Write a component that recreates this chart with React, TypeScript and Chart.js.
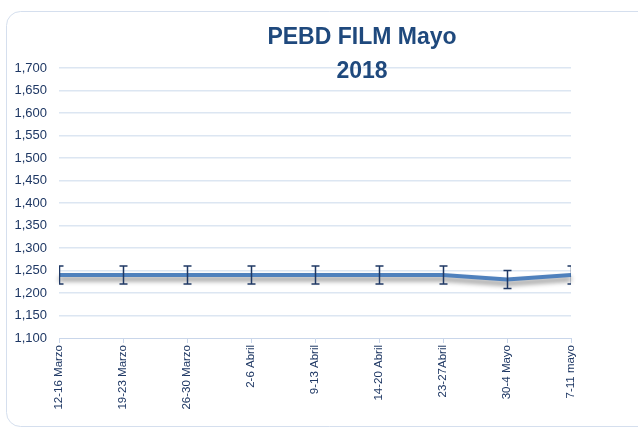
import React, { useEffect, useRef } from "react";
import { Chart, registerables } from "chart.js";

Chart.register(...registerables);

const categories = [
  "12-16 Marzo",
  "19-23 Marzo",
  "26-30 Marzo",
  "2-6 Abril",
  "9-13 Abril",
  "14-20 Abril",
  "23-27Abril",
  "30-4 Mayo",
  "7-11 mayo",
];
const prices = [1240, 1240, 1240, 1240, 1240, 1240, 1240, 1230, 1240];
const errorPlus = [20, 20, 20, 20, 20, 20, 20, 20, 20];
const errorMinus = [20, 20, 20, 20, 20, 20, 20, 20, 20];
const titleLines = ["PEBD FILM Mayo", "2018"];
const yMin = 1100;
const yMax = 1700;
const yStep = 50;

const FONT = '"Liberation Sans", Arial, sans-serif';
const TEXT = "#1F3864";

const framePlugin = {
  id: "frame",
  beforeDraw(chart: any) {
    const ctx = chart.ctx;
    ctx.save();
    ctx.fillStyle = "#ffffff";
    ctx.fillRect(0, 0, chart.width, chart.height);
    ctx.strokeStyle = "#D5DFEE";
    ctx.lineWidth = 1;
    ctx.beginPath();
    (ctx as any).roundRect(6.5, 11.5, 720, 415, 14);
    ctx.stroke();
    ctx.restore();
  },
};

const shadowPlugin = {
  id: "lineShadow",
  beforeDatasetDraw(chart: any) {
    const ctx = chart.ctx;
    ctx.save();
    ctx.shadowColor = "rgba(0,0,0,0.45)";
    ctx.shadowBlur = 5;
    ctx.shadowOffsetY = 4;
  },
  afterDatasetDraw(chart: any) {
    chart.ctx.restore();
  },
};

const errorBarPlugin = {
  id: "errorBars",
  afterDatasetsDraw(chart: any) {
    const ctx = chart.ctx;
    const x = chart.scales.x;
    const y = chart.scales.y;
    const area = chart.chartArea;
    ctx.save();
    ctx.beginPath();
    ctx.rect(area.left, area.top - 5, area.right - area.left, area.bottom - area.top + 10);
    ctx.clip();
    ctx.strokeStyle = "#1F3864";
    ctx.lineWidth = 1.5;
    prices.forEach((v, i) => {
      const px = Math.round(x.getPixelForValue(i)) + 0.5;
      const top = y.getPixelForValue(v + errorPlus[i]);
      const bot = y.getPixelForValue(v - errorMinus[i]);
      ctx.beginPath();
      ctx.moveTo(px, top);
      ctx.lineTo(px, bot);
      ctx.moveTo(px - 4, top);
      ctx.lineTo(px + 4, top);
      ctx.moveTo(px - 4, bot);
      ctx.lineTo(px + 4, bot);
      ctx.stroke();
    });
    ctx.restore();
  },
};

const titlePlugin = {
  id: "overlayTitle",
  afterDraw(chart: any) {
    const ctx = chart.ctx;
    ctx.save();
    ctx.fillStyle = "#1F497D";
    ctx.font = `bold 23px ${FONT}`;
    ctx.textAlign = "center";
    ctx.textBaseline = "alphabetic";
    ctx.fillText(titleLines[0], 362, 44);
    ctx.fillText(titleLines[1], 362, 78);
    ctx.restore();
  },
};

export default function App() {
  const ref = useRef<HTMLCanvasElement | null>(null);

  useEffect(() => {
    if (!ref.current) return;
    const chart = new Chart(ref.current, {
      type: "line",
      data: {
        labels: categories,
        datasets: [
          {
            data: prices,
            borderColor: "#4F81BD",
            borderWidth: 4,
            pointRadius: 0,
            tension: 0,
            clip: false as any,
          },
        ],
      },
      options: {
        responsive: false,
        animation: false,
        events: [],
        layout: { padding: { left: 0, top: 68, right: 67, bottom: 0 } },
        plugins: {
          legend: { display: false },
          title: { display: false },
          tooltip: { enabled: false },
        },
        scales: {
          x: {
            offset: false,
            grid: {
              display: true,
              drawOnChartArea: false,
              drawTicks: true,
              tickLength: 5,
              color: "#C9D6EA",
            },
            border: { display: true, color: "#C9D6EA", width: 1 },
            ticks: {
              autoSkip: false,
              maxRotation: 90,
              minRotation: 90,
              padding: 2,
              color: TEXT,
              font: { family: FONT, size: 11.5 },
            },
            afterFit(s: any) {
              s.height = 432 - 338;
            },
          },
          y: {
            min: yMin,
            max: yMax,
            grid: {
              color: (c: any) => (c.tick && c.tick.value === yMin ? "rgba(0,0,0,0)" : "#DCE6F2"),
              lineWidth: 1.5,
              drawTicks: false,
            },
            border: { display: false },
            ticks: {
              stepSize: yStep,
              padding: 12,
              color: TEXT,
              font: { family: FONT, size: 13 },
              callback: (v: any) => Number(v).toLocaleString("en-US"),
            },
            afterFit(s: any) {
              s.width = 59;
            },
          },
        },
      },
      plugins: [framePlugin, shadowPlugin, errorBarPlugin, titlePlugin],
    });
    return () => chart.destroy();
  }, []);

  return (
    <div style={{ position: "fixed", left: 0, top: 0, width: 638, height: 432, background: "#fff" }}>
      <canvas ref={ref} width={638} height={432} style={{ display: "block" }} />
    </div>
  );
}
